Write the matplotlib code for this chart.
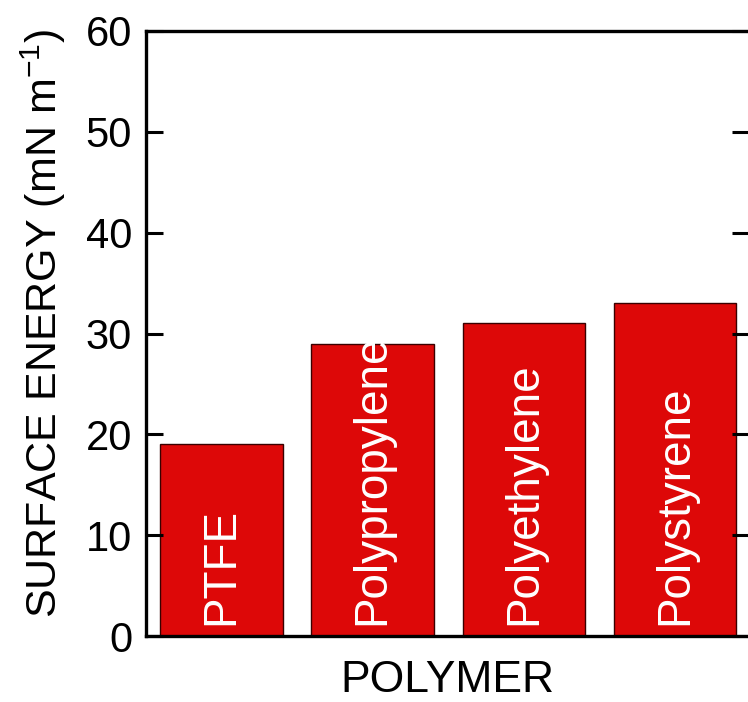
import numpy as np
import matplotlib.pyplot as plt

polymers = ['PTFE', 'Polypropylene', 'Polyethylene', 'Polystyrene']
surface_energy = [19, 29, 31, 33]
yticks = [0, 10, 20, 30, 40, 50, 60]

plt.rcParams['font.family'] = ['Liberation Sans', 'DejaVu Sans']

fig = plt.figure(figsize=(7.48, 7.02), dpi=100)
ax = fig.add_axes([146 / 748, 1 - 636 / 702, 603 / 748, 605 / 702])

x = np.arange(len(polymers))
ax.bar(x, surface_energy, width=0.81, color='#dd0808', edgecolor='#3a0000', linewidth=1.0)

for xi, name in zip(x, polymers):
    ax.text(xi, 1.1, name, rotation=90, ha='center', va='bottom',
            color='white', fontsize=33)

ax.set_xlim(-0.5, 3.49)
ax.set_ylim(0, 60)
ax.set_yticks(yticks)
ax.set_xticks([])
ax.tick_params(axis='y', direction='in', length=12, width=2.2, labelsize=30,
               right=True, pad=10)
for s in ax.spines.values():
    s.set_linewidth(2.4)

ax.set_ylabel('SURFACE ENERGY (mN m$^{\\mathregular{-1}}$)', fontsize=31, labelpad=13)
ax.yaxis.label.set_y(0.517)
ax.set_xlabel('POLYMER', fontsize=32, labelpad=17)

plt.savefig('out.png', dpi=100)
